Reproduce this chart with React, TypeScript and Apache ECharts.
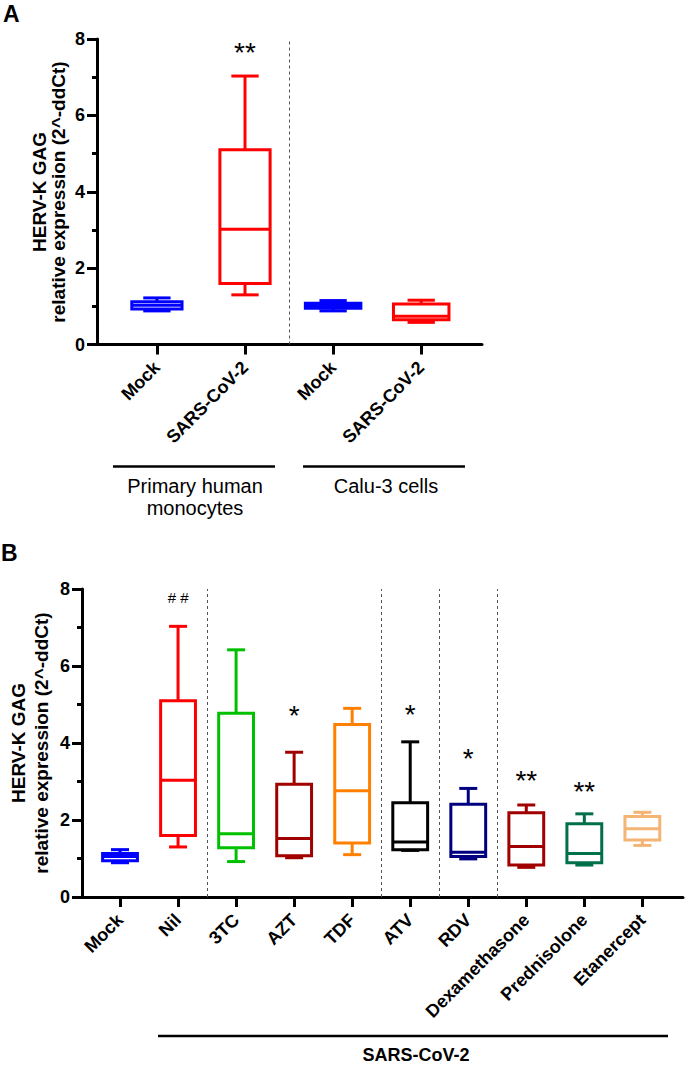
import React, { useEffect, useRef } from 'react';
import * as echarts from 'echarts';

const FONT = "'Liberation Sans', Arial, Helvetica, sans-serif";

// ---------- Panel A data ----------
const categoriesA = ['Mock', 'SARS-CoV-2', 'Mock', 'SARS-CoV-2'];
const minA = [0.88, 1.3, 0.88, 0.58];
const q1A = [0.93, 1.6, 0.95, 0.65];
const medianA = [1.03, 3.02, 1.02, 0.74];
const q3A = [1.12, 5.1, 1.08, 1.06];
const maxA = [1.22, 7.03, 1.15, 1.16];
const marksA = ['', '**', '', ''];
const markLevelA = [0, 7.8, 0, 0];
const separatorsA = [1.5];

// ---------- Panel B data ----------
const categoriesB = ['Mock', 'Nil', '3TC', 'AZT', 'TDF', 'ATV', 'RDV', 'Dexamethasone', 'Prednisolone', 'Etanercept'];
const minB = [0.89, 1.3, 0.92, 1.02, 1.1, 1.21, 0.99, 0.77, 0.83, 1.34];
const q1B = [0.94, 1.6, 1.28, 1.07, 1.4, 1.23, 1.05, 0.83, 0.89, 1.48];
const medianB = [1.05, 3.03, 1.64, 1.52, 2.76, 1.43, 1.16, 1.31, 1.13, 1.77];
const q3B = [1.13, 5.1, 4.77, 2.93, 4.48, 2.45, 2.41, 2.19, 1.9, 2.09];
const maxB = [1.23, 7.03, 6.42, 3.76, 4.9, 4.03, 2.82, 2.39, 2.16, 2.2];
const marksB = ['', '# #', '', '*', '', '*', '*', '**', '**', ''];
const markLevelB = [0, 7.79, 0, 4.88, 0, 4.9, 3.75, 3.19, 2.89, 0];
const separatorsB = [1.5, 4.5, 5.5, 6.5];

const yTickInterval = 2;
const yMax = 8;

// styles (not data)
const colorsA = ['#0000FF', '#FF0000', '#0000FF', '#FF0000'];
const boxFracA = [0.57, 0.57, 0.63, 0.63];
const colorsB = ['#0000FF', '#FF0000', '#00C000', '#A00000', '#FF8000', '#000000', '#000080', '#A00000', '#00704A', '#F4B474'];
const boxFracB = [0.6, 0.6, 0.6, 0.6, 0.6, 0.6, 0.6, 0.6, 0.6, 0.6];

function buildData(mins: number[], q1s: number[], meds: number[], q3s: number[], maxs: number[], levels: number[]) {
  return mins.map((m, i) => [i, m, q1s[i], meds[i], q3s[i], maxs[i], levels[i]]);
}

function makeRenderItem(colors: string[], boxFrac: number[], marks: string[]) {
  return (params: any, api: any) => {
    const i = params.dataIndex;
    const xv = api.value(0);
    const vals = [1, 2, 3, 4, 5].map((d) => api.value(d));
    const band = api.size([1, 0])[0];
    const half = (band * boxFrac[i]) / 2;
    const capHalf = band * 0.155;
    const p = (v: number) => api.coord([xv, v]);
    const [pMin, pQ1, pMed, pQ3, pMax] = vals.map(p);
    const cx = pMin[0];
    const ls = { stroke: colors[i], lineWidth: 3, fill: 'none' };
    const children: any[] = [
      { type: 'line', shape: { x1: cx, y1: pMax[1], x2: cx, y2: pQ3[1] }, style: ls },
      { type: 'line', shape: { x1: cx, y1: pQ1[1], x2: cx, y2: pMin[1] }, style: ls },
      { type: 'line', shape: { x1: cx - capHalf, y1: pMax[1], x2: cx + capHalf, y2: pMax[1] }, style: ls },
      { type: 'line', shape: { x1: cx - capHalf, y1: pMin[1], x2: cx + capHalf, y2: pMin[1] }, style: ls },
      { type: 'rect', shape: { x: cx - half, y: pQ3[1], width: 2 * half, height: pQ1[1] - pQ3[1] }, style: ls },
      { type: 'line', shape: { x1: cx - half, y1: pMed[1], x2: cx + half, y2: pMed[1] }, style: ls },
    ];
    const mk = marks[i];
    if (mk) {
      const pm = p(api.value(6));
      const isHash = mk.indexOf('#') >= 0;
      const fs = isHash ? 15 : 28;
      children.push({
        type: 'text',
        x: cx,
        y: pm[1] + (isHash ? 0 : fs * 0.22),
        style: { text: mk, fontSize: fs, fontFamily: FONT, fill: '#000', align: 'center', verticalAlign: 'middle' },
      });
    }
    return { type: 'group', children };
  };
}

const axisLineStyle = { color: '#000', width: 3 };

function xAxisCfg(gridIndex: number, min: number, max: number, cats: string[]) {
  const vals = cats.map((_, i) => i);
  return {
    gridIndex,
    type: 'value',
    min,
    max,
    axisLine: { show: true, onZero: false, lineStyle: axisLineStyle },
    axisTick: { show: true, customValues: vals, length: 10, lineStyle: { color: '#000', width: 3 } },
    axisLabel: {
      show: true,
      customValues: vals,
      formatter: (v: number) => cats[Math.round(v)] ?? '',
      rotate: 45,
      margin: 20,
      fontSize: 18,
      fontWeight: 'bold',
      color: '#000',
      fontFamily: FONT,
    },
    splitLine: { show: false },
  };
}

function yAxisCfg(gridIndex: number) {
  return {
    gridIndex,
    type: 'value',
    min: 0,
    max: yMax,
    interval: yTickInterval,
    axisLine: { show: true, onZero: false, lineStyle: axisLineStyle },
    axisTick: { show: true, length: 10, lineStyle: { color: '#000', width: 3 } },
    minorTick: { show: true, splitNumber: 2, length: 5, lineStyle: { color: '#000', width: 3 } },
    axisLabel: { fontSize: 18, fontWeight: 'bold', color: '#000', fontFamily: FONT, margin: 12 },
    splitLine: { show: false },
    minorSplitLine: { show: false },
  };
}

function markLineCfg(seps: number[]) {
  return {
    silent: true,
    symbol: ['none', 'none'],
    label: { show: false },
    lineStyle: { type: [3, 3], color: '#555', width: 1 },
    data: seps.map((v) => ({ xAxis: v })),
  };
}

const textStyle = (fs: number, bold: boolean) => ({
  fontSize: fs,
  fontWeight: bold ? 'bold' : 'normal',
  fontFamily: FONT,
  fill: '#000',
  align: 'center',
  verticalAlign: 'middle',
});

export default function App() {
  const ref = useRef<HTMLDivElement>(null);
  useEffect(() => {
    if (!ref.current) return;
    const chart = echarts.init(ref.current, null, { renderer: 'svg' });
    const option: any = {
      animation: false,
      backgroundColor: '#fff',
      grid: [
        { left: 97, top: 39, width: 385, height: 305.5 },
        { left: 82, top: 589, width: 601, height: 308 },
      ],
      xAxis: [xAxisCfg(0, -0.68, 3.69, categoriesA), xAxisCfg(1, -0.655, 9.7, categoriesB)],
      yAxis: [yAxisCfg(0), yAxisCfg(1)],
      series: [
        {
          type: 'custom',
          xAxisIndex: 0,
          yAxisIndex: 0,
          data: buildData(minA, q1A, medianA, q3A, maxA, markLevelA),
          encode: { x: 0, y: [1, 2, 3, 4, 5] },
          renderItem: makeRenderItem(colorsA, boxFracA, marksA),
          clip: false,
          silent: true,
          markLine: markLineCfg(separatorsA),
        },
        {
          type: 'custom',
          xAxisIndex: 1,
          yAxisIndex: 1,
          data: buildData(minB, q1B, medianB, q3B, maxB, markLevelB),
          encode: { x: 0, y: [1, 2, 3, 4, 5] },
          renderItem: makeRenderItem(colorsB, boxFracB, marksB),
          clip: false,
          silent: true,
          markLine: markLineCfg(separatorsB),
        },
      ],
      graphic: [
        { type: 'text', x: 3, y: 14, style: { ...textStyle(23, true), text: 'A', align: 'left' } },
        { type: 'text', x: 1, y: 553, style: { ...textStyle(23, true), text: 'B', align: 'left' } },
        { type: 'text', x: 39, y: 192, rotation: Math.PI / 2, style: { ...textStyle(19, true), text: 'HERV-K GAG' } },
        { type: 'text', x: 58, y: 192, rotation: Math.PI / 2, style: { ...textStyle(19, true), text: 'relative expression (2^-ddCt)' } },
        { type: 'text', x: 18, y: 743, rotation: Math.PI / 2, style: { ...textStyle(19, true), text: 'HERV-K GAG' } },
        { type: 'text', x: 41, y: 743, rotation: Math.PI / 2, style: { ...textStyle(19, true), text: 'relative expression (2^-ddCt)' } },
        { type: 'line', shape: { x1: 113, y1: 466.5, x2: 275, y2: 466.5 }, style: { stroke: '#000', lineWidth: 2.5 } },
        { type: 'line', shape: { x1: 303, y1: 466.5, x2: 465, y2: 466.5 }, style: { stroke: '#000', lineWidth: 2.5 } },
        { type: 'text', x: 195, y: 486, style: { ...textStyle(20, false), text: 'Primary human' } },
        { type: 'text', x: 195, y: 508, style: { ...textStyle(20, false), text: 'monocytes' } },
        { type: 'text', x: 386, y: 486, style: { ...textStyle(20, false), text: 'Calu-3 cells' } },
        { type: 'line', shape: { x1: 158, y1: 1036, x2: 668, y2: 1036 }, style: { stroke: '#000', lineWidth: 2.5 } },
        { type: 'text', x: 416, y: 1055, style: { ...textStyle(18, true), text: 'SARS-CoV-2' } },
      ],
    };
    chart.setOption(option);
    return () => chart.dispose();
  }, []);
  return (
    <div
      ref={ref}
      style={{ position: 'absolute', left: 0, top: 0, width: 685, height: 1066, background: '#fff' }}
    />
  );
}
